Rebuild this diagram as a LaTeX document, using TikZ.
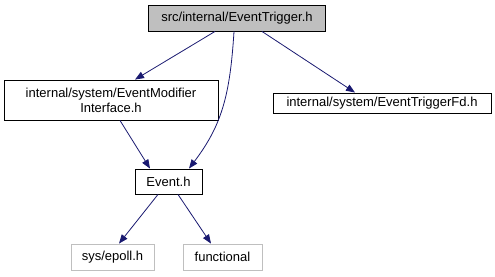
\documentclass[tikz,border=0pt]{standalone}
\usepackage{fontspec}
\setmainfont{Liberation Sans}
\usetikzlibrary{arrows.meta}
\definecolor{edgeblue}{HTML}{191970}
\definecolor{lightgrey}{HTML}{BFBFBF}
\begin{document}
\begin{tikzpicture}[x=1pt,y=-1pt,
  font=\fontsize{13}{15}\selectfont,
  box/.style={draw=black,fill=white,line width=0.9pt,inner sep=0pt,align=center},
  extbox/.style={draw=lightgrey,fill=white,line width=0.9pt,inner sep=0pt,align=center},
  dep/.style={draw=edgeblue,line width=0.8pt,-{Triangle[length=9pt,width=7pt]}}]
  \useasboundingbox (0,0) rectangle (495,276);
  % nodes
  \node[box,fill=lightgrey,minimum width=177pt,minimum height=26pt] (trig) at (237,18) {src/internal/EventTrigger.h};
  \node[box,minimum width=214pt,minimum height=40pt] (emi) at (111,100) {internal/system/EventModifier\\Interface.h};
  \node[box,minimum width=218pt,minimum height=20pt] (fd) at (382,103) {internal/system/EventTriggerFd.h};
  \node[box,minimum width=67pt,minimum height=25pt] (ev) at (168.5,181.5) {Event.h};
  \node[extbox,minimum width=83pt,minimum height=26pt] (epoll) at (112.5,257) {sys/epoll.h};
  \node[extbox,minimum width=79pt,minimum height=26pt] (func) at (222.5,257) {functional};
  % include edges
  \draw[dep] (trig.south -| 215,0) -- (emi.north -| 135,0);
  \draw[dep] (trig.south -| 262,0) -- (fd.north -| 355,0);
  \draw[dep] (trig.south -| 234,0) .. controls (230,95) and (222,125) .. (ev.north -| 189,0);
  \draw[dep] (emi.south -| 120,0) -- (ev.north -| 150,0);
  \draw[dep] (ev.south -| 158,0) -- (epoll.north -| 119,0);
  \draw[dep] (ev.south -| 178,0) -- (func.north -| 211,0);
\end{tikzpicture}
\end{document}
